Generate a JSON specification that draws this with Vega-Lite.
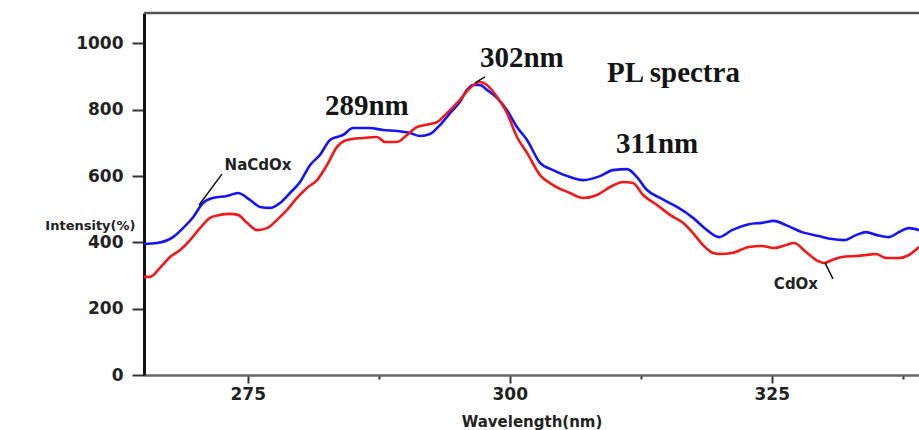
{
  "$schema": "https://vega.github.io/schema/vega-lite/v6.json",
  "width": 775,
  "height": 362,
  "autosize": "none",
  "padding": {"left": 144, "top": 13, "right": 0, "bottom": 55},
  "background": "white",
  "config": {
    "view": {"stroke": null},
    "axis": {"labelFont": "DejaVu Sans", "labelFontWeight": "bold", "titleFont": "DejaVu Sans", "titleFontWeight": "bold", "labelColor": "#222", "titleColor": "#222", "grid": false}
  },
  "datasets": {
    "spectra": [
      {"series": "NaCdOx", "wavelength": 265.1, "intensity": 395},
      {"series": "NaCdOx", "wavelength": 266.34, "intensity": 398},
      {"series": "NaCdOx", "wavelength": 267.87, "intensity": 416},
      {"series": "NaCdOx", "wavelength": 268.82, "intensity": 443},
      {"series": "NaCdOx", "wavelength": 269.78, "intensity": 476},
      {"series": "NaCdOx", "wavelength": 270.73, "intensity": 519},
      {"series": "NaCdOx", "wavelength": 271.68, "intensity": 534},
      {"series": "NaCdOx", "wavelength": 273.02, "intensity": 540},
      {"series": "NaCdOx", "wavelength": 274.07, "intensity": 549},
      {"series": "NaCdOx", "wavelength": 275.21, "intensity": 528},
      {"series": "NaCdOx", "wavelength": 276.17, "intensity": 507},
      {"series": "NaCdOx", "wavelength": 277.12, "intensity": 504},
      {"series": "NaCdOx", "wavelength": 278.08, "intensity": 519},
      {"series": "NaCdOx", "wavelength": 279.03, "intensity": 549},
      {"series": "NaCdOx", "wavelength": 279.99, "intensity": 582},
      {"series": "NaCdOx", "wavelength": 280.94, "intensity": 633},
      {"series": "NaCdOx", "wavelength": 281.89, "intensity": 664},
      {"series": "NaCdOx", "wavelength": 282.85, "intensity": 709},
      {"series": "NaCdOx", "wavelength": 283.52, "intensity": 718},
      {"series": "NaCdOx", "wavelength": 284.09, "intensity": 724},
      {"series": "NaCdOx", "wavelength": 285.04, "intensity": 745},
      {"series": "NaCdOx", "wavelength": 286.66, "intensity": 745},
      {"series": "NaCdOx", "wavelength": 287.91, "intensity": 739},
      {"series": "NaCdOx", "wavelength": 289.24, "intensity": 736},
      {"series": "NaCdOx", "wavelength": 290.48, "intensity": 730},
      {"series": "NaCdOx", "wavelength": 291.44, "intensity": 721},
      {"series": "NaCdOx", "wavelength": 292.39, "intensity": 727},
      {"series": "NaCdOx", "wavelength": 293.34, "intensity": 754},
      {"series": "NaCdOx", "wavelength": 294.3, "intensity": 790},
      {"series": "NaCdOx", "wavelength": 295.25, "intensity": 824},
      {"series": "NaCdOx", "wavelength": 295.92, "intensity": 860},
      {"series": "NaCdOx", "wavelength": 296.49, "intensity": 875},
      {"series": "NaCdOx", "wavelength": 297.16, "intensity": 875},
      {"series": "NaCdOx", "wavelength": 297.83, "intensity": 860},
      {"series": "NaCdOx", "wavelength": 298.78, "intensity": 836},
      {"series": "NaCdOx", "wavelength": 299.74, "intensity": 799},
      {"series": "NaCdOx", "wavelength": 300.69, "intensity": 748},
      {"series": "NaCdOx", "wavelength": 301.65, "intensity": 709},
      {"series": "NaCdOx", "wavelength": 302.89, "intensity": 640},
      {"series": "NaCdOx", "wavelength": 304.13, "intensity": 618},
      {"series": "NaCdOx", "wavelength": 305.75, "intensity": 597},
      {"series": "NaCdOx", "wavelength": 306.99, "intensity": 588},
      {"series": "NaCdOx", "wavelength": 308.61, "intensity": 600},
      {"series": "NaCdOx", "wavelength": 309.85, "intensity": 618},
      {"series": "NaCdOx", "wavelength": 311.19, "intensity": 621},
      {"series": "NaCdOx", "wavelength": 312.14, "intensity": 597},
      {"series": "NaCdOx", "wavelength": 313.1, "intensity": 558},
      {"series": "NaCdOx", "wavelength": 314.34, "intensity": 534},
      {"series": "NaCdOx", "wavelength": 315.96, "intensity": 507},
      {"series": "NaCdOx", "wavelength": 317.49, "intensity": 474},
      {"series": "NaCdOx", "wavelength": 318.82, "intensity": 437},
      {"series": "NaCdOx", "wavelength": 319.97, "intensity": 416},
      {"series": "NaCdOx", "wavelength": 321.21, "intensity": 437},
      {"series": "NaCdOx", "wavelength": 322.83, "intensity": 455},
      {"series": "NaCdOx", "wavelength": 324.07, "intensity": 459},
      {"series": "NaCdOx", "wavelength": 325.22, "intensity": 465},
      {"series": "NaCdOx", "wavelength": 326.36, "intensity": 452},
      {"series": "NaCdOx", "wavelength": 327.89, "intensity": 431},
      {"series": "NaCdOx", "wavelength": 329.51, "intensity": 419},
      {"series": "NaCdOx", "wavelength": 330.75, "intensity": 410},
      {"series": "NaCdOx", "wavelength": 331.89, "intensity": 407},
      {"series": "NaCdOx", "wavelength": 333.04, "intensity": 422},
      {"series": "NaCdOx", "wavelength": 333.99, "intensity": 431},
      {"series": "NaCdOx", "wavelength": 335.04, "intensity": 422},
      {"series": "NaCdOx", "wavelength": 336.19, "intensity": 416},
      {"series": "NaCdOx", "wavelength": 337.14, "intensity": 431},
      {"series": "NaCdOx", "wavelength": 338.09, "intensity": 443},
      {"series": "NaCdOx", "wavelength": 339.05, "intensity": 437},
      {"series": "CdOx", "wavelength": 265.1, "intensity": 296},
      {"series": "CdOx", "wavelength": 265.67, "intensity": 296},
      {"series": "CdOx", "wavelength": 266.63, "intensity": 323},
      {"series": "CdOx", "wavelength": 267.58, "intensity": 356},
      {"series": "CdOx", "wavelength": 268.54, "intensity": 377},
      {"series": "CdOx", "wavelength": 269.49, "intensity": 407},
      {"series": "CdOx", "wavelength": 270.44, "intensity": 443},
      {"series": "CdOx", "wavelength": 271.4, "intensity": 474},
      {"series": "CdOx", "wavelength": 272.35, "intensity": 483},
      {"series": "CdOx", "wavelength": 273.31, "intensity": 486},
      {"series": "CdOx", "wavelength": 274.07, "intensity": 483},
      {"series": "CdOx", "wavelength": 274.93, "intensity": 459},
      {"series": "CdOx", "wavelength": 275.88, "intensity": 437},
      {"series": "CdOx", "wavelength": 276.84, "intensity": 443},
      {"series": "CdOx", "wavelength": 277.79, "intensity": 468},
      {"series": "CdOx", "wavelength": 278.75, "intensity": 498},
      {"series": "CdOx", "wavelength": 279.7, "intensity": 534},
      {"series": "CdOx", "wavelength": 280.65, "intensity": 564},
      {"series": "CdOx", "wavelength": 281.61, "intensity": 588},
      {"series": "CdOx", "wavelength": 282.56, "intensity": 633},
      {"series": "CdOx", "wavelength": 283.52, "intensity": 688},
      {"series": "CdOx", "wavelength": 284.47, "intensity": 709},
      {"series": "CdOx", "wavelength": 286.0, "intensity": 715},
      {"series": "CdOx", "wavelength": 287.33, "intensity": 718},
      {"series": "CdOx", "wavelength": 288.1, "intensity": 703},
      {"series": "CdOx", "wavelength": 289.24, "intensity": 703},
      {"series": "CdOx", "wavelength": 290.2, "intensity": 724},
      {"series": "CdOx", "wavelength": 291.15, "intensity": 748},
      {"series": "CdOx", "wavelength": 292.39, "intensity": 757},
      {"series": "CdOx", "wavelength": 293.06, "intensity": 763},
      {"series": "CdOx", "wavelength": 294.01, "intensity": 790},
      {"series": "CdOx", "wavelength": 295.25, "intensity": 830},
      {"series": "CdOx", "wavelength": 296.21, "intensity": 866},
      {"series": "CdOx", "wavelength": 297.16, "intensity": 884},
      {"series": "CdOx", "wavelength": 297.83, "intensity": 875},
      {"series": "CdOx", "wavelength": 298.78, "intensity": 839},
      {"series": "CdOx", "wavelength": 299.74, "intensity": 790},
      {"series": "CdOx", "wavelength": 300.69, "intensity": 718},
      {"series": "CdOx", "wavelength": 301.65, "intensity": 670},
      {"series": "CdOx", "wavelength": 302.89, "intensity": 603},
      {"series": "CdOx", "wavelength": 304.13, "intensity": 573},
      {"series": "CdOx", "wavelength": 305.75, "intensity": 549},
      {"series": "CdOx", "wavelength": 306.99, "intensity": 534},
      {"series": "CdOx", "wavelength": 308.33, "intensity": 543},
      {"series": "CdOx", "wavelength": 309.57, "intensity": 567},
      {"series": "CdOx", "wavelength": 310.81, "intensity": 582},
      {"series": "CdOx", "wavelength": 311.76, "intensity": 579},
      {"series": "CdOx", "wavelength": 312.72, "intensity": 543},
      {"series": "CdOx", "wavelength": 314.05, "intensity": 513},
      {"series": "CdOx", "wavelength": 315.29, "intensity": 483},
      {"series": "CdOx", "wavelength": 316.53, "intensity": 459},
      {"series": "CdOx", "wavelength": 317.49, "intensity": 428},
      {"series": "CdOx", "wavelength": 318.44, "intensity": 392},
      {"series": "CdOx", "wavelength": 319.4, "intensity": 368},
      {"series": "CdOx", "wavelength": 320.06, "intensity": 365},
      {"series": "CdOx", "wavelength": 321.21, "intensity": 368},
      {"series": "CdOx", "wavelength": 322.83, "intensity": 386},
      {"series": "CdOx", "wavelength": 324.07, "intensity": 389},
      {"series": "CdOx", "wavelength": 325.22, "intensity": 383},
      {"series": "CdOx", "wavelength": 326.36, "intensity": 392},
      {"series": "CdOx", "wavelength": 327.12, "intensity": 398},
      {"series": "CdOx", "wavelength": 328.27, "intensity": 371},
      {"series": "CdOx", "wavelength": 329.22, "intensity": 347},
      {"series": "CdOx", "wavelength": 329.99, "intensity": 338},
      {"series": "CdOx", "wavelength": 330.75, "intensity": 347},
      {"series": "CdOx", "wavelength": 331.7, "intensity": 356},
      {"series": "CdOx", "wavelength": 333.04, "intensity": 359},
      {"series": "CdOx", "wavelength": 333.99, "intensity": 362},
      {"series": "CdOx", "wavelength": 334.95, "intensity": 365},
      {"series": "CdOx", "wavelength": 335.9, "intensity": 353},
      {"series": "CdOx", "wavelength": 337.14, "intensity": 353},
      {"series": "CdOx", "wavelength": 338.09, "intensity": 362},
      {"series": "CdOx", "wavelength": 339.05, "intensity": 386}
    ],
    "peaks": [
      {"label": "302nm", "wavelength": 297.16, "intensity": 929},
      {"label": "PL spectra", "wavelength": 309.28, "intensity": 884},
      {"label": "289nm", "wavelength": 282.37, "intensity": 784},
      {"label": "311nm", "wavelength": 310.14, "intensity": 670}
    ],
    "names": [
      {"label": "NaCdOx", "wavelength": 275.98, "intensity": 618},
      {"label": "CdOx", "wavelength": 327.31, "intensity": 259}
    ],
    "leaders": [
      {"wavelength": 272.54, "intensity": 606, "wavelength2": 270.35, "intensity2": 513},
      {"wavelength": 330.08, "intensity": 338, "wavelength2": 330.84, "intensity2": 290},
      {"wavelength": 296.68, "intensity": 881, "wavelength2": 297.64, "intensity2": 899}
    ],
    "frame": [
      {"intensity": 1092}
    ]
  },
  "layer": [
    {
      "data": {"name": "frame"},
      "mark": {"type": "rule", "strokeWidth": 2.5, "color": "#555"},
      "encoding": {
        "y": {"field": "intensity", "type": "quantitative"}
      }
    },
    {
      "data": {"name": "spectra"},
      "mark": {"type": "line", "strokeWidth": 2.6, "interpolate": "monotone"},
      "encoding": {
        "x": {
          "field": "wavelength", "type": "quantitative",
          "scale": {"domain": [265.1, 339.05], "nice": false, "zero": false},
          "axis": {
            "title": "Wavelength(nm)",
            "values": [275, 287.5, 300, 312.5, 325, 337.5],
            "labelExpr": "datum.value % 25 == 0 ? datum.label : ''",
            "tickSize": {"condition": {"test": "datum.value % 25 == 0", "value": 8}, "value": 4},
            "tickColor": "#333", "tickWidth": 2,
            "domainColor": "#666", "domainWidth": 2.5,
            "labelFontSize": 17, "labelPadding": 3,
            "titleFontSize": 15, "titleY": 46, "titleBaseline": "middle"
          }
        },
        "y": {
          "field": "intensity", "type": "quantitative",
          "scale": {"domain": [0, 1092], "nice": false},
          "axis": {
            "title": "Intensity(%)",
            "format": "d",
            "values": [0, 100, 200, 300, 400, 500, 600, 700, 800, 900, 1000],
            "labelExpr": "datum.value % 200 == 0 ? datum.label : ''",
            "tickSize": {"condition": {"test": "datum.value % 200 == 0", "value": 12}, "value": 7},
            "tickColor": "#333", "tickWidth": 2,
            "domainColor": "#111", "domainWidth": 3,
            "labelFontSize": 17, "labelPadding": 9,
            "titleFontSize": 13, "titleAngle": 0, "titleAlign": "right",
            "titleBaseline": "middle", "titleX": -9, "titleY": 212
          }
        },
        "color": {
          "field": "series", "type": "nominal",
          "scale": {"domain": ["NaCdOx", "CdOx"], "range": ["#1414f5", "#f01818"]},
          "legend": null
        }
      }
    },
    {
      "data": {"name": "peaks"},
      "mark": {"type": "text", "font": "Liberation Serif", "fontWeight": "bold", "fontSize": 29, "align": "left", "baseline": "alphabetic", "color": "#151515"},
      "encoding": {
        "x": {"field": "wavelength", "type": "quantitative"},
        "y": {"field": "intensity", "type": "quantitative"},
        "text": {"field": "label"}
      }
    },
    {
      "data": {"name": "names"},
      "mark": {"type": "text", "font": "DejaVu Sans", "fontWeight": "bold", "fontSize": 15, "align": "center", "baseline": "alphabetic", "color": "#222"},
      "encoding": {
        "x": {"field": "wavelength", "type": "quantitative"},
        "y": {"field": "intensity", "type": "quantitative"},
        "text": {"field": "label"}
      }
    },
    {
      "data": {"name": "leaders"},
      "mark": {"type": "rule", "strokeWidth": 1.5, "color": "#111"},
      "encoding": {
        "x": {"field": "wavelength", "type": "quantitative"},
        "y": {"field": "intensity", "type": "quantitative"},
        "x2": {"field": "wavelength2"},
        "y2": {"field": "intensity2"}
      }
    }
  ]
}
